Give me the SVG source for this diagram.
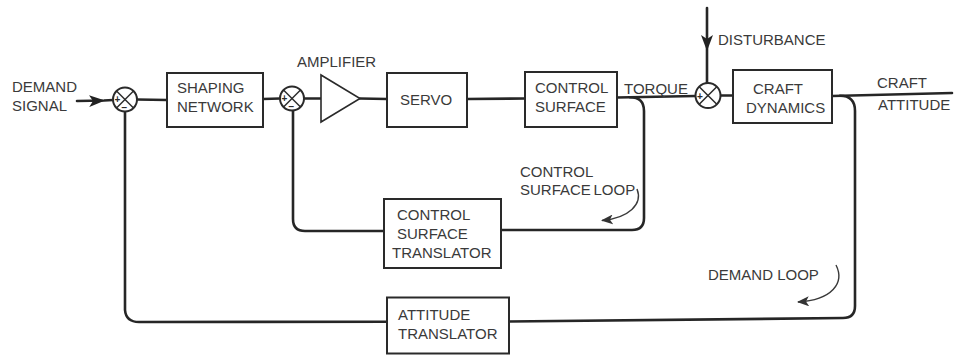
<svg xmlns="http://www.w3.org/2000/svg" width="963" height="357" viewBox="0 0 963 357">
<defs>
<style>
.box{fill:#fff;stroke:#2a2a2a;stroke-width:2}
.ln{fill:none;stroke:#262626;stroke-width:2.6;stroke-linecap:round;stroke-linejoin:round}
.thin{fill:none;stroke:#3a3a3a;stroke-width:1.4}
.sj{fill:#fff;stroke:#2a2a2a;stroke-width:2}
.x{stroke:#2a2a2a;stroke-width:1.5}
.t{font-family:"Liberation Sans",Arial,sans-serif;font-size:15px;fill:#3a3a3a}
.s{font-family:"Liberation Sans",Arial,sans-serif;font-size:10px;font-weight:bold;fill:#2a2a2a}
</style>
<marker id="big" viewBox="0 0 16 12" refX="15" refY="6" markerWidth="16" markerHeight="12" markerUnits="userSpaceOnUse" orient="auto">
<path d="M0,0 L16,6 L0,12 L4,6 z" fill="#222"/>
</marker>
<marker id="sm" viewBox="0 0 12 10" refX="11" refY="5" markerWidth="12" markerHeight="10" markerUnits="userSpaceOnUse" orient="auto">
<path d="M0,0 L12,5 L0,10 L3,5 z" fill="#333"/>
</marker>
</defs>
<rect width="963" height="357" fill="#fff"/>

<g id="connectors">
<path class="ln" d="M77 101 L104 100.5 L113 100" marker-mid="url(#big)"/>
<path class="ln" d="M137 99.5 L167 100"/>
<path class="ln" d="M263 99 L280 98.5"/>
<path class="ln" d="M304 98.5 L321 98.5"/>
<path class="ln" d="M360 98.5 L387 99"/>
<path class="ln" d="M467 99 L525 98.5"/>
<path class="ln" d="M617 97.5 L695.5 96"/>
<path class="ln" d="M720.5 95.5 L733 95.5"/>
<path class="ln" d="M832 96 L952 93"/>
<path class="ln" d="M707 8 L707 50 L707 82.5" marker-mid="url(#big)"/>
<path class="ln" d="M630 97.3 Q644 97.3 644 111 L644 218 Q644 230 632 230 L501 230"/>
<path class="ln" d="M384 231 L305 231 Q293 231 293 219 L293 110.5"/>
<path class="ln" d="M840 95.8 Q855 95.8 855 111 L855 306 Q855 318 843 318 L509 321.5"/>
<path class="ln" d="M387 321.7 L139 322 Q126 322 125 310 L125 111.5"/>
<path class="thin" d="M637 189 C643 204 629 218 602 220.5" marker-end="url(#sm)"/>
<path class="thin" d="M836 265 C845 283 832 300 798 302" marker-end="url(#sm)"/>
</g>

<g id="demand-signal">
<text class="t" x="12" y="92">DEMAND</text>
<text class="t" x="12" y="111">SIGNAL</text>
</g>

<g id="sum1">
<circle class="sj" cx="125" cy="99.5" r="12"/>
<line class="x" x1="116.5" y1="91" x2="133.5" y2="108"/>
<line class="x" x1="133.5" y1="91" x2="116.5" y2="108"/>
<text class="s" x="114.5" y="103">+</text>
<text class="s" x="121.5" y="111">−</text>
</g>

<g id="shaping-network">
<rect class="box" x="167" y="73" width="96" height="54"/>
<text class="t" x="177" y="92.5">SHAPING</text>
<text class="t" x="177" y="111.5">NETWORK</text>
</g>

<g id="sum2">
<circle class="sj" cx="292" cy="98.5" r="12"/>
<line class="x" x1="283.5" y1="90" x2="300.5" y2="107"/>
<line class="x" x1="300.5" y1="90" x2="283.5" y2="107"/>
<text class="s" x="281.5" y="102">+</text>
<text class="s" x="288.5" y="110">−</text>
</g>

<g id="amplifier">
<polygon points="321,75 321,122 360,98.5" fill="#fff" stroke="#2a2a2a" stroke-width="1.6"/>
<text class="t" x="297" y="67">AMPLIFIER</text>
</g>

<g id="servo">
<rect class="box" x="387" y="73" width="80" height="54"/>
<text class="t" x="400" y="105">SERVO</text>
</g>

<g id="control-surface">
<rect class="box" x="525" y="72" width="92" height="55"/>
<text class="t" x="535" y="93">CONTROL</text>
<text class="t" x="535" y="111.5">SURFACE</text>
</g>

<g id="torque">
<text class="t" x="624" y="94">TORQUE</text>
</g>

<g id="sum3">
<circle class="sj" cx="708" cy="95.5" r="12.5"/>
<line class="x" x1="699.2" y1="86.7" x2="716.8" y2="104.3"/>
<line class="x" x1="716.8" y1="86.7" x2="699.2" y2="104.3"/>
<text class="s" x="697" y="99.5">+</text>
</g>

<g id="disturbance">
<text class="t" x="718" y="45">DISTURBANCE</text>
</g>

<g id="craft-dynamics">
<rect class="box" x="733" y="70" width="99" height="53"/>
<text class="t" x="753" y="94">CRAFT</text>
<text class="t" x="746" y="113">DYNAMICS</text>
</g>

<g id="craft-attitude">
<text class="t" x="877" y="88">CRAFT</text>
<text class="t" x="878" y="110">ATTITUDE</text>
</g>

<g id="control-surface-loop">
<text class="t" x="520" y="177">CONTROL</text>
<text class="t" x="520" y="195" word-spacing="-1.5">SURFACE LOOP</text>
</g>

<g id="control-surface-translator">
<rect class="box" x="384" y="199" width="117" height="69"/>
<text class="t" x="397" y="220">CONTROL</text>
<text class="t" x="397" y="238.5">SURFACE</text>
<text class="t" x="392" y="257.5">TRANSLATOR</text>
</g>

<g id="demand-loop">
<text class="t" x="708" y="280">DEMAND LOOP</text>
</g>

<g id="attitude-translator">
<rect class="box" x="387" y="297.5" width="122" height="56"/>
<text class="t" x="398" y="320">ATTITUDE</text>
<text class="t" x="398" y="339">TRANSLATOR</text>
</g>
</svg>
